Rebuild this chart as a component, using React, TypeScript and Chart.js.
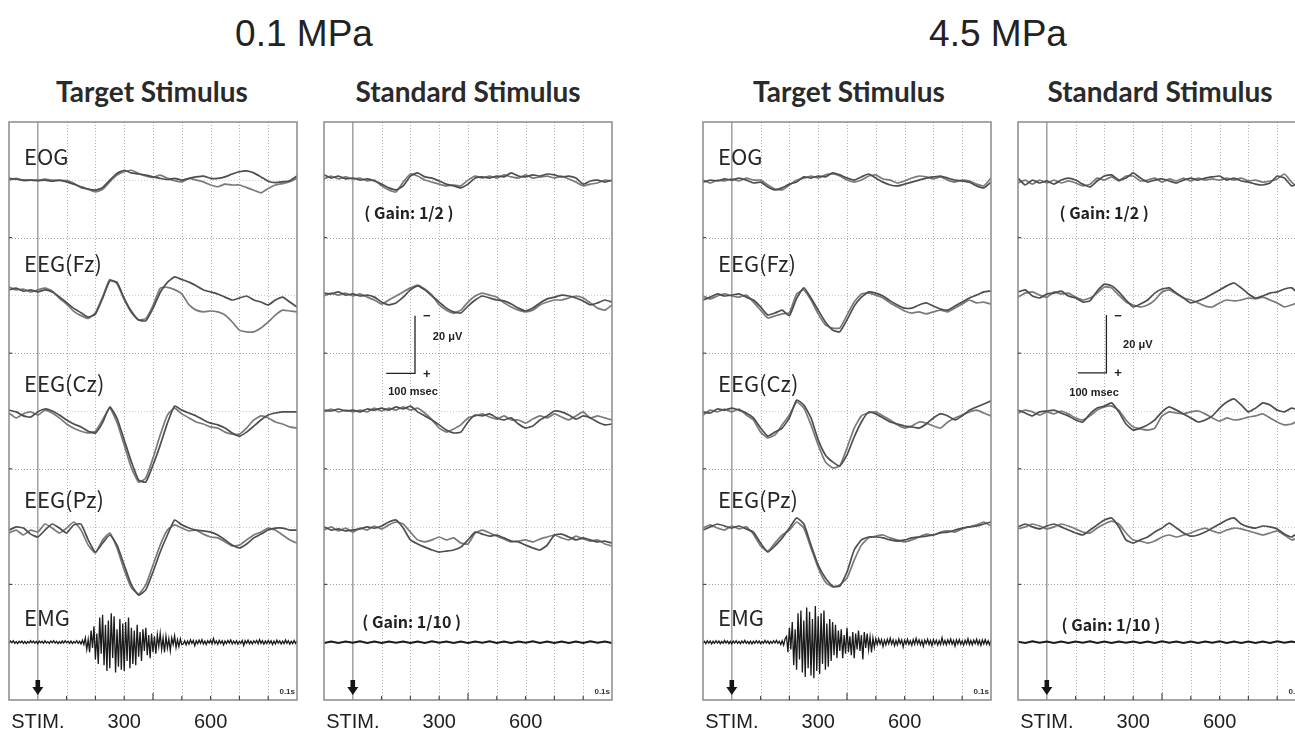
import React, { useEffect, useRef } from "react";
import { Chart, registerables } from "chart.js";

Chart.register(...registerables);

// ---------- axis / category data ----------
const TIMES = [-100, -75, -50, -25, 0, 25, 50, 75, 100, 125, 150, 175, 200, 225, 250, 275, 300, 325, 350, 375, 400, 425, 450, 475, 500, 525, 550, 575, 600, 625, 650, 675, 700, 725, 750, 775, 800, 825, 850, 875, 900];
const EMG_TIMES = [
  -100, -95, -90, -85, -80, -75, -70, -65, -60, -55, -50, -45, -40, -35, -30, -25, -20, -15, -10, -5,
  0, 5, 10, 15, 20, 25, 30, 35, 40, 45, 50, 55, 60, 65, 70, 75, 80, 85, 90, 95,
  100, 105, 110, 115, 120, 125, 130, 135, 140, 145, 150, 155, 160, 165, 170, 175, 180, 185, 190, 195,
  200, 205, 210, 215, 220, 225, 230, 235, 240, 245, 250, 255, 260, 265, 270, 275, 280, 285, 290, 295,
  300, 305, 310, 315, 320, 325, 330, 335, 340, 345, 350, 355, 360, 365, 370, 375, 380, 385, 390, 395,
  400, 405, 410, 415, 420, 425, 430, 435, 440, 445, 450, 455, 460, 465, 470, 475, 480, 485, 490, 495,
  500, 505, 510, 515, 520, 525, 530, 535, 540, 545, 550, 555, 560, 565, 570, 575, 580, 585, 590, 595,
  600, 605, 610, 615, 620, 625, 630, 635, 640, 645, 650, 655, 660, 665, 670, 675, 680, 685, 690, 695,
  700, 705, 710, 715, 720, 725, 730, 735, 740, 745, 750, 755, 760, 765, 770, 775, 780, 785, 790, 795,
  800, 805, 810, 815, 820, 825, 830, 835, 840, 845, 850, 855, 860, 865, 870, 875, 880, 885, 890, 895,
  900,
];
const GRID_TIMES = [100, 200, 300, 400, 500, 600, 700, 800];
const TICK_TIMES = [100, 200, 300, 400, 500, 600, 700, 800];
const X_LABEL_VALUES = [0, 300, 600];
const X_LABEL_TEXT = ["STIM.", "300", "600"];
const CHANNELS = ["EOG", "EEG(Fz)", "EEG(Cz)", "EEG(Pz)", "EMG"];
const PRESSURES = ["0.1 MPa", "4.5 MPa"];
const CONDITIONS = ["Target Stimulus", "Standard Stimulus"];
const UV_PER_DIV = 20; // 20 µV per division, negative up

// ---------- 0.1 MPa, target (µV, negative = up) ----------
const T1_EOG_A = [-0.5, -0.2, 0.1, 0.1, 0.3, 0.1, 0.5, 0.1, 0.7, 1.5, 2.4, 3.2, 3.6, 2.7, 0.1, -2.2, -3.3, -2.4, -2.0, -1.6, -1.0, -0.5, -0.1, -0.5, 0.1, -0.5, -1.0, -1.3, -0.5, -0.5, -1.0, -2.0, -2.8, -3.1, -2.4, -1.0, 0.5, 1.0, 0.7, 0.3, -1.3];
const T1_EOG_B = [0.1, -0.5, 0.3, 0.1, 0.1, -0.2, 0.1, 0.2, 0.3, 1.2, 2.7, 3.3, 4.2, 3.3, 0.7, -1.6, -2.8, -3.3, -2.2, -1.3, -0.8, -1.6, -0.5, 0.3, 0.7, -0.5, 0.1, 0.7, 1.8, 2.4, 1.5, 1.8, 1.8, 2.7, 3.6, 4.5, 3.0, 1.8, 1.3, 0.7, -0.5];
const T1_FZ_A = [-1.9, -2.5, -1.5, -1.9, -1.2, -1.9, -1.2, 0.5, 2.5, 4.5, 6.0, 7.5, 6.5, 1.0, -5.0, -4.5, 1.0, 5.5, 8.5, 8.8, 4.5, -1.0, -4.5, -6.4, -5.5, -4.6, -3.3, -1.9, -1.2, -0.5, 0.6, 1.6, 0.9, 0.2, 1.6, 2.3, 3.3, 1.6, 0.6, 2.3, 4.0];
const T1_FZ_B = [-2.9, -1.9, -2.2, -1.2, -1.9, -2.5, -1.5, 1.0, 3.0, 5.5, 7.0, 8.0, 6.0, 0.5, -5.5, -4.0, 1.5, 6.0, 8.5, 8.0, 3.5, -2.5, -2.8, -2.0, -0.5, 3.3, 5.1, 5.7, 5.4, 5.7, 6.8, 9.2, 12.0, 12.6, 12.6, 11.3, 9.2, 6.8, 5.1, 5.4, 5.7];
const T1_CZ_A = [-0.3, 0.3, 1.7, 2.1, 0.3, -0.7, 0, 1.4, 3.1, 4.5, 5.5, 7.0, 7.6, 4.0, -1.4, 2.5, 10.0, 17.6, 23.9, 24.6, 18.7, 11.8, 4.2, -1.7, -0.3, 0.7, 1.7, 3.1, 4.2, 4.8, 5.9, 7.6, 8.7, 7.3, 5.2, 3.1, 1.4, 0.7, 0.3, 0.3, 0.3];
const T1_CZ_B = [0.7, 2.4, 1.0, 0.3, 1.4, -0.3, 0.7, 2.4, 4.5, 6.0, 7.0, 7.6, 7.0, 3.0, -1.0, 4.0, 11.8, 19.7, 24.6, 23.2, 16.3, 8.3, 1.4, -1.0, 1.0, 2.4, 3.8, 4.5, 5.5, 5.9, 7.3, 8.0, 8.0, 5.9, 3.1, 1.7, 2.4, 3.8, 4.5, 5.5, 5.9];
const T1_PZ_A = [1.2, 0.1, 0.5, 2.6, 3.6, 1.2, -0.9, 0.5, 2.2, -0.6, -0.9, 4.6, 8.8, 5.7, 2.9, 6.4, 13.3, 20.2, 23.7, 21.9, 15.7, 8.8, 2.9, -2.3, -0.6, 0.5, 1.2, 1.5, 1.9, 2.9, 4.6, 6.4, 7.4, 6.0, 3.9, 2.6, 1.2, 0.5, 0.5, 1.2, 1.2];
const T1_PZ_B = [2.2, 1.2, 2.9, 1.2, 1.9, -0.9, 0.5, 2.2, 0.5, -1.6, 1.2, 6.4, 9.1, 4.6, 2.2, 7.4, 15.0, 21.2, 23.3, 20.2, 13.3, 6.4, 1.2, -0.6, 0.5, 1.5, 1.2, 2.6, 3.6, 3.9, 5.3, 6.7, 6.4, 4.6, 2.9, 1.9, 0.5, 1.2, 2.9, 4.6, 5.7];
const T1_EMG = [
  0.3, -0.4, 0.2, -0.5, 0.4, -0.2, 0.5, -0.3, 0.2, -0.4, 0.4, -0.3, 0.5, -0.2, 0.3, -0.5, 0.2, -0.4, 0.3, -0.3,
  0.5, -0.4, 0.2, -0.3, 0.4, -0.5, 0.3, -0.2, 0.4, -0.4, 0.2, -0.5, 0.3, -0.3, 0.5, -0.2, 0.4, -0.4, 0.3, -0.5,
  0.2, -0.3, 0.4, -0.4, 0.5, -0.2, 0.3, -0.5, 0.4, -0.3, 0.6, -0.7,
  0.8, -1.5, 2.5, -1.0, 3.5, -4.0, 2.0, -5.5,
  6.0, -3.0, 7.5, -8.5, 4.0, -9.5, 8.0, -6.0, 10.0, -7.5,
  9.0, -10.0, 5.5, -9.0, 10.5, -4.5, 8.5, -8.0, 9.5, -6.5,
  10.0, -7.0, 6.5, -8.5, 9.0, -5.0, 7.5, -4.0, 8.0, -6.0,
  5.0, -3.5, 6.5, -4.5, 3.0, -5.0, 4.5, -2.5, 5.5, -3.0,
  3.5, -2.0, 4.0, -2.5, 1.5, -3.0, 2.5, -1.5, 3.5, -2.0,
  2.0, -1.2, 3.0, -1.5, 0.8, -2.2, 1.8, -0.9, 1.5, -1.2,
  0.8,
  0.6, -0.5, 0.9, -0.4, 0.7, -0.8, 0.4, -0.6, 1.2, -0.5,
  0.5, -0.7, 0.4, -0.9, 0.6, -0.4, 0.8, -0.5, 0.3, -0.7,
  0.6, -1.3, 0.5, -0.4, 0.7, -0.6, 0.4, -0.5, 0.9, -0.4,
  0.5, -0.6, 0.3, -0.8, 0.6, -0.4, 0.5, -0.5, 0.7, -0.3,
  0.4, -0.6, 1.1, -0.5, 0.4, -0.7, 0.5, -0.4, 0.6, -0.5,
  0.3, -0.6, 0.5, -0.9, 0.4, -0.5, 0.7, -0.4, 0.5, -0.6,
  0.4, -0.5, 0.8, -0.4, 0.6, -0.7, 0.3, -0.5, 0.6, -0.4,
  0.5, -0.8, 0.4, -0.5, 0.7, -0.3, 0.5, -0.6, 0.4, -0.5,
];

// ---------- 0.1 MPa, standard ----------
const S1_EOG_A = [-1.7, -0.6, -1.3, -0.3, -0.6, 0.1, -0.3, 0.4, 1.5, 2.8, 3.5, 2.1, -1.3, -2.4, -1.0, -0.6, 0.4, 1.5, 2.1, 2.8, 1.5, -0.6, -1.0, -0.6, -1.3, -1.0, -2.4, -1.3, -1.0, -1.7, -1.3, -2.0, -1.7, -1.0, -1.3, -0.6, 1.5, 0.4, 0.1, 0.8, 0.1];
const S1_EOG_B = [-0.3, -1.3, -0.3, -1.0, -0.3, -0.6, 0.4, 0.1, 2.1, 3.5, 4.2, 0.8, -2.0, -1.3, 0.1, 0.8, 1.5, 2.1, 1.8, 2.1, 0.1, -1.3, -0.6, -1.3, -0.6, -1.7, -1.0, -0.6, -1.7, -0.6, -1.0, -1.3, -0.6, -1.3, -0.3, 0.8, 2.1, 1.5, 1.1, 0.1, 0.4];
const S1_FZ_A = [-0.8, -0.5, -1.2, -0.1, -0.5, 0.2, -0.1, 0.6, 2.3, 3.3, 2.6, 0.6, -1.9, -3.3, -1.9, 0.2, 2.3, 4.4, 5.7, 6.1, 3.7, 1.6, 0.2, 0.9, 1.6, 1.9, 3.0, 4.4, 5.4, 4.4, 2.6, 1.2, 0.6, -0.1, 0.2, 0.9, 1.9, 3.3, 2.6, 1.6, 2.3];
const S1_FZ_B = [0.2, -0.8, -0.1, -0.8, 0.2, -0.5, 0.6, 1.6, 3.0, 1.6, 0.2, -1.2, -2.6, -3.6, -2.2, -0.1, 3.3, 5.1, 6.1, 5.1, 2.3, 0.2, -0.8, -0.1, 0.6, 2.6, 4.0, 5.1, 5.7, 5.1, 3.3, 2.3, 1.6, 1.6, 0.9, 0.2, 0.9, 2.6, 4.4, 5.1, 3.3];
const S1_CZ_A = [-0.3, 0, -0.7, 0, -0.3, 0.3, -0.7, -0.3, -1.0, -0.3, -1.4, -0.7, -1.7, 0.3, 1.7, 3.1, 4.8, 6.6, 7.6, 7.3, 3.8, 1.4, 1.7, 1.0, 2.4, 3.1, 2.4, 4.5, 5.9, 5.2, 3.1, 1.7, 0, 0.3, 1.4, 2.8, 1.7, 2.4, 3.8, 4.8, 4.5];
const S1_CZ_B = [0.3, -0.7, 0.3, -0.3, 0.3, -0.3, 0.3, -1.0, 0, -1.0, -0.3, -1.4, -0.3, -1.0, 0.7, 3.1, 5.9, 7.3, 6.2, 4.8, 2.4, 1.7, 1.0, 2.1, 2.8, 1.7, 3.1, 3.1, 4.2, 2.8, 1.7, 2.4, 1.0, 2.1, 3.1, 1.7, 0.3, 2.4, 1.7, 2.4, 3.1];
const S1_PZ_A = [0.1, 1.2, 0.8, 1.5, 1.2, 0.8, 0.1, 0.5, -0.2, -1.6, -2.3, 0.5, 4.6, 6.0, 7.1, 8.1, 8.8, 8.5, 8.1, 7.1, 4.6, 1.9, 2.6, 3.3, 2.9, 3.9, 5.0, 5.3, 6.4, 7.4, 8.1, 6.4, 2.9, 2.6, 3.6, 4.6, 3.9, 4.6, 5.3, 5.0, 5.7];
const S1_PZ_B = [1.2, 0.1, 1.5, 0.5, 1.9, 0.5, 1.2, -0.2, 0.8, -0.6, -1.6, -0.9, 1.9, 4.6, 5.3, 4.6, 3.6, 4.6, 3.9, 5.7, 6.0, 2.2, 1.2, 2.2, 3.3, 4.3, 5.3, 5.0, 4.6, 5.3, 4.3, 3.6, 2.9, 3.9, 4.6, 3.3, 4.3, 5.0, 4.6, 6.0, 6.7];
const S1_EMG = [0.25, -0.2, 0.3, -0.25, 0.2, -0.3, 0.25, -0.2, 0.3, -0.25, 0.2, -0.25, 0.3, -0.2, 0.25, -0.3, 0.2, -0.25, 0.3, -0.2, 0.25, -0.25, 0.2, -0.3, 0.25, -0.2, 0.3, -0.25, 0.2, -0.3, 0.25, -0.2, 0.25, -0.25, 0.3, -0.2, 0.25, -0.3, 0.2, -0.25, 0.25];

// ---------- 4.5 MPa, target ----------
const T2_EOG_A = [0.8, 0.1, 0.4, -0.3, 0.1, -0.6, 0.1, 1.1, 0.8, 2.5, 3.5, 2.8, 1.5, 0.8, -1.0, -0.6, -1.3, -1.0, -2.4, -1.7, -0.6, 0.1, -1.0, -2.0, -0.6, 0.8, 1.8, 2.1, 1.5, 0.8, 0.1, -0.6, -1.0, -1.3, -0.6, 0.1, 0.4, 0.8, 2.1, 2.8, 0.8];
const T2_EOG_B = [0.1, 1.1, 0.1, 0.4, -0.3, 0.4, -0.6, 0.1, 0.1, 1.8, 3.2, 3.5, 1.8, 0.1, -0.6, -1.3, -0.6, -1.7, -2.0, -1.3, 0.1, 0.8, 0.1, -1.3, -1.7, -0.3, 0.1, 1.1, 0.4, -0.6, -1.3, -1.0, -0.3, -1.0, 0.1, 0.8, 0.1, 0.4, 1.5, 2.1, -0.6];
const T2_FZ_A = [1.6, 0.6, -0.5, 0.2, -0.1, -0.5, 0.6, 1.6, 4.0, 6.8, 6.1, 5.1, 7.0, 1.0, -2.6, 0.9, 5.1, 9.2, 12.0, 12.6, 8.5, 3.7, 0.6, -1.2, -0.8, 0.2, 1.9, 3.3, 4.4, 4.4, 3.3, 2.6, 3.7, 4.7, 5.1, 3.7, 2.3, 0.9, -0.1, -1.2, -1.5];
const T2_FZ_B = [0.2, 1.2, 0.2, -0.5, 0.2, 0.6, -0.1, 2.3, 5.1, 7.8, 7.1, 6.4, 6.0, -0.5, -1.9, 1.6, 6.4, 10.2, 11.3, 11.3, 6.8, 2.3, -0.5, -0.8, -0.1, 0.9, 2.6, 4.0, 5.4, 6.1, 5.7, 6.4, 5.7, 5.1, 5.7, 4.4, 3.0, 1.6, 2.6, 2.3, 3.0];
const T2_CZ_A = [0.3, 0.7, -0.7, -0.3, -1.0, -0.3, 0.7, 2.4, 5.9, 8.7, 7.3, 5.9, 2.4, -3.8, -2.1, 2.4, 10.0, 15.2, 17.6, 19.0, 15.2, 9.0, 3.8, 0.3, 1.0, 2.4, 3.8, 4.5, 5.2, 5.5, 5.9, 4.5, 2.4, 1.0, 1.7, 3.1, 1.7, -0.3, -1.4, -2.4, -3.5];
const T2_CZ_B = [1.4, -0.3, 0.3, -0.7, 0.3, -0.7, 1.4, 3.1, 7.3, 9.3, 8.3, 4.8, 1.4, -3.1, -1.0, 4.8, 11.8, 17.6, 19.7, 19.0, 12.8, 5.9, 1.7, 0.7, 0.3, 1.7, 3.1, 4.8, 5.9, 5.2, 3.8, 4.2, 5.2, 5.9, 3.8, 2.4, 1.4, 0.3, -0.3, 0.7, 1.7];
const T2_PZ_A = [1.2, 0.1, -0.9, -0.2, 0.5, -0.2, 0.8, 1.9, 5.7, 8.8, 6.7, 3.9, 0.5, -3.0, -0.9, 6.4, 13.3, 17.8, 20.6, 20.6, 15.7, 8.1, 4.6, 3.6, 3.6, 3.9, 4.6, 5.0, 4.6, 3.9, 3.6, 3.3, 2.9, 2.2, 1.9, 1.2, 0.5, 0.1, -0.2, -0.9, -1.6];
const T2_PZ_B = [0.5, -0.6, 0.5, 1.2, -0.2, 0.8, 0.1, 2.6, 6.7, 8.5, 5.7, 2.9, 1.2, -1.6, 0.5, 7.4, 14.3, 19.2, 20.9, 20.2, 17.8, 11.6, 6.4, 3.9, 3.3, 2.9, 3.9, 4.6, 5.3, 4.6, 3.6, 2.6, 2.9, 1.9, 1.5, 1.9, 0.8, 0.1, -0.6, -1.6, -0.2];
const T2_EMG = [
  0.4, -0.3, 0.5, -0.5, 0.3, -0.4, 0.6, -0.3, 0.4, -0.5, 0.3, -0.4, 0.5, -0.3, 0.4, -0.6, 0.3, -0.4, 0.5, -0.3,
  0.6, -0.4, 0.3, -0.5, 0.4, -0.3, 0.5, -0.4, 0.3, -0.6, 0.4, -0.3, 0.5, -0.4, 0.6, -0.3, 0.4, -0.5, 0.3, -0.4,
  0.5, -0.3, 0.4, -0.6, 0.3, -0.4, 0.5, -0.3, 0.4, -0.5, 0.3, -0.6, 0.4, -0.3, 0.8, -0.5, 1.0, -1.2,
  -2.0, 3.5, -5.0, 2.5, -7.0, 8.0, -4.5, 9.5, -10.0, 6.0,
  -11.0, 10.5, -7.5, 12.0, -12.0, 9.0, -10.5, 11.5, -8.0, 12.5,
  -12.5, 10.0, -9.0, 11.0, -10.0, 7.5, -11.0, 9.5, -6.5, 8.5,
  -8.0, 6.5, -7.0, 4.5, -6.0, 5.5, -4.0,
  3.0, -4.5, 5.5, -2.5, 4.0, -5.0, 3.5, -2.0, 4.5, -3.5,
  5.5, -3.0, 2.5, -4.0, 3.0, -2.5, 6.0, -3.5, 2.0, -3.0,
  2.5, -1.8, 3.5, -1.5, 1.8, -1.2,
  0.8, -1.2, 0.6, -0.9, 1.5, -0.7, 0.9, -1.0, 0.6, -1.4,
  0.7, -0.8, 1.2, -0.6, 0.9, -1.1, 0.5, -0.8, 1.6, -0.7,
  0.6, -1.0, 0.8, -0.5, 1.1, -0.9, 0.7, -1.3, 0.6, -0.8,
  0.9, -0.6, 1.4, -0.7, 0.5, -1.0, 0.8, -0.6, 1.2, -0.9,
  0.6, -0.7, 1.0, -0.5, 0.8, -1.5, 0.7, -0.6, 0.9, -0.8,
  0.5, -1.1, 0.7, -0.6, 1.3, -0.8, 0.6, -0.9, 0.7, -0.5,
  1.0, -0.7, 0.6, -1.2, 0.8, -0.6, 0.9, -0.7, 0.5, -1.0,
  0.8, -0.6, 1.1, -0.8, 0.6, -0.9, 0.7, -0.5, 0.9, -0.7,
];

// ---------- 4.5 MPa, standard ----------
const S2_EOG_A = [-0.6, 1.8, 0.1, 1.1, 0.4, 1.5, 0.1, -0.6, 0.1, 1.5, 2.5, 0.4, -1.3, -1.7, 0.1, -0.6, -2.4, -0.6, 0.8, 0.1, -0.3, 0.4, 1.1, 0.1, -0.6, 0.1, -0.6, -1.0, -1.3, 0.1, -0.6, 0.4, 0.8, 1.5, 1.8, 1.1, -1.3, -0.6, 2.1, 1.5, 0.8];
const S2_EOG_B = [1.1, 0.1, 1.5, 0.1, 1.1, 0.1, 1.1, 0.4, 1.1, 2.1, 1.5, -0.6, 0.1, -1.0, 0.4, -1.3, -1.3, 0.4, 0.1, -0.6, 0.8, -0.3, 0.4, -0.6, 0.4, -0.6, 0.1, -0.3, 0.1, -0.6, 0.1, -0.6, 0.4, 0.1, 0.8, 0.4, -0.3, -2.0, 0.8, 2.8, 1.8];
const S2_FZ_A = [-1.2, -1.9, 0.2, 0.9, -0.5, -0.8, -1.5, 0.2, 0.9, 2.3, 1.9, -1.5, -3.9, -3.3, -1.2, 1.6, 4.0, 3.0, 1.6, -0.8, -2.2, -2.6, -0.8, 0.9, 2.6, 1.9, 0.9, -0.5, -1.9, -3.3, -4.3, -2.6, -0.5, 0.9, 0.2, -0.8, -1.2, -2.2, -2.6, -0.5, 0.6];
const S2_FZ_B = [0.6, -0.8, -1.2, -0.1, 0.6, -1.2, -0.5, -0.8, 0.6, 1.6, 0.9, -0.8, -2.9, -2.6, -0.1, 2.3, 3.3, 4.0, 3.3, 1.6, -1.2, -1.9, -0.5, 0.9, 1.6, 2.6, 3.7, 4.0, 2.6, 1.6, 1.9, 1.6, 0.9, 1.2, 0.6, 1.6, 2.6, 4.0, 3.3, 2.3, 1.6];
const S2_CZ_A = [-0.3, 0.7, 1.7, 0.3, 0, -0.3, 0.7, 1.7, 3.1, 3.8, 1.0, -1.0, -1.7, -2.8, 0.3, 4.5, 6.6, 5.9, 4.8, 3.1, 0.3, -1.4, -0.3, 1.0, 2.4, 3.8, 3.1, 1.7, -1.0, -3.1, -4.2, -2.1, 0.3, -1.0, -2.8, -2.1, -0.3, 0.3, -1.0, -0.3, 0.3];
const S2_CZ_B = [0.7, -0.3, 0.3, 1.4, 0.3, 1.0, 0, 1.0, 2.4, 3.1, 1.7, -0.3, -1.4, -1.7, -0.3, 3.1, 5.5, 6.2, 6.6, 5.9, 1.7, 0.3, 0.7, 1.0, 0.3, 0, 1.0, 2.4, 3.5, 2.4, 3.1, 2.8, 2.1, 1.7, 1.0, 2.4, 3.8, 4.8, 4.5, 3.1, 2.4];
const S2_PZ_A = [0.1, -0.9, 0.1, 0.8, -0.2, -0.9, 0.1, 1.2, 2.2, 2.9, 1.2, -0.6, -2.3, -3.0, 0.1, 4.6, 5.7, 4.6, 3.6, 1.9, 0.5, -1.2, 0.5, 2.2, 3.3, 2.9, 1.9, 0.5, -0.9, -2.3, -3.0, -0.9, 0.1, 0.5, -0.2, 0.1, 0.8, 2.6, 3.6, 1.9, 1.2];
const S2_PZ_B = [0.8, 0.1, -0.9, -0.2, 0.8, 0.1, -0.9, -0.2, 0.8, 1.9, 2.2, 0.5, -0.9, -1.9, -0.9, 2.2, 4.6, 5.0, 5.7, 5.0, 3.6, 2.9, 3.6, 2.9, 2.2, 1.2, 0.5, 1.5, 2.2, 1.2, 0.5, 0.8, 1.5, 2.2, 2.9, 2.2, 1.5, 2.9, 4.6, 3.9, 3.3];
const S2_EMG = [-0.2, 0.25, -0.3, 0.2, -0.25, 0.3, -0.2, 0.25, -0.25, 0.2, -0.3, 0.25, -0.2, 0.3, -0.25, 0.2, -0.25, 0.3, -0.2, 0.25, -0.3, 0.2, -0.25, 0.25, -0.2, 0.3, -0.25, 0.2, -0.3, 0.25, -0.2, 0.25, -0.25, 0.3, -0.2, 0.25, -0.3, 0.2, -0.25, 0.25, -0.2];

// ---------- layout / style (not data) ----------
const CHANNEL_BASE = [9, 7, 5, 3, 1];
const LABEL_OFFSET = [0.4, 0.55, 0.48, 0.47, 0.43];
const TRACE_COLORS = ["#4e4e4e", "#7a7a7a"];
const PAD = { left: 9, right: 12, top: 22, bottom: 35 };
const CANVAS_W = 309;
const CANVAS_H = 635;
const CANVAS_TOP = 100;

type ScaleBar = { bx: number; bBottom: number; hStart: number; signT: number; uvT: number; uvY: number; msT: number; msY: number };
type PanelDef = {
  left: number;
  eeg: number[][][];
  emg: number[];
  emgTimes: number[];
  target: boolean;
  gain2?: { t: number; y: number };
  gain10?: { t: number; y: number };
  scale?: ScaleBar;
};

const PANELS: PanelDef[] = [
  { left: 9, eeg: [[T1_EOG_A, T1_EOG_B], [T1_FZ_A, T1_FZ_B], [T1_CZ_A, T1_CZ_B], [T1_PZ_A, T1_PZ_B]], emg: T1_EMG, emgTimes: EMG_TIMES, target: true },
  {
    left: 324, eeg: [[S1_EOG_A, S1_EOG_B], [S1_FZ_A, S1_FZ_B], [S1_CZ_A, S1_CZ_B], [S1_PZ_A, S1_PZ_B]], emg: S1_EMG, emgTimes: TIMES, target: false,
    gain2: { t: 40, y: 8.43 }, gain10: { t: 33, y: 1.35 },
    scale: { bx: 216, bBottom: 5.65, hStart: 116, signT: 257, uvT: 278, uvY: 6.28, msT: 209, msY: 5.33 },
  },
  { left: 703, eeg: [[T2_EOG_A, T2_EOG_B], [T2_FZ_A, T2_FZ_B], [T2_CZ_A, T2_CZ_B], [T2_PZ_A, T2_PZ_B]], emg: T2_EMG, emgTimes: EMG_TIMES, target: true },
  {
    left: 1018, eeg: [[S2_EOG_A, S2_EOG_B], [S2_FZ_A, S2_FZ_B], [S2_CZ_A, S2_CZ_B], [S2_PZ_A, S2_PZ_B]], emg: S2_EMG, emgTimes: TIMES, target: false,
    gain2: { t: 44, y: 8.43 }, gain10: { t: 51, y: 1.3 },
    scale: { bx: 207, bBottom: 5.66, hStart: 108, signT: 247, uvT: 265, uvY: 6.14, msT: 164, msY: 5.31 },
  },
];

function toPoints(times: number[], values: number[], base: number) {
  return values.map((v, i) => ({ x: times[i], y: base - v / UV_PER_DIV }));
}

function makeDecor(p: PanelDef) {
  return {
    id: "panelDecor",
    beforeDatasetsDraw(chart: any) {
      const { ctx, chartArea: a, scales } = chart;
      const x = scales.x;
      const y = scales.y;
      ctx.save();
      ctx.lineWidth = 1;
      ctx.setLineDash([1, 2]);
      ctx.strokeStyle = "#adadad";
      for (const t of GRID_TIMES) {
        const px = Math.round(x.getPixelForValue(t)) + 0.5;
        ctx.beginPath();
        ctx.moveTo(px, a.top);
        ctx.lineTo(px, a.bottom);
        ctx.stroke();
      }
      for (let v = 1; v <= 9; v++) {
        const py = Math.round(y.getPixelForValue(v)) + 0.5;
        ctx.strokeStyle = v % 2 === 0 ? "#a4a4a4" : "#cfcfcf";
        ctx.beginPath();
        ctx.moveTo(a.left, py);
        ctx.lineTo(a.right, py);
        ctx.stroke();
      }
      ctx.setLineDash([]);
      const sx = x.getPixelForValue(0);
      ctx.strokeStyle = "#a0a0a0";
      ctx.lineWidth = 1.5;
      ctx.beginPath();
      ctx.moveTo(sx, a.top);
      ctx.lineTo(sx, a.bottom);
      ctx.stroke();
      ctx.restore();
    },
    afterDatasetsDraw(chart: any) {
      const { ctx, chartArea: a, scales } = chart;
      const x = scales.x;
      const y = scales.y;
      ctx.save();
      // frame
      ctx.strokeStyle = "#8a8a8a";
      ctx.lineWidth = 1.5;
      ctx.strokeRect(a.left, a.top, a.right - a.left, a.bottom - a.top);
      // bottom ticks
      ctx.strokeStyle = "#4a4a4a";
      ctx.lineWidth = 1.2;
      for (const t of TICK_TIMES) {
        const px = x.getPixelForValue(t);
        const len = t === 400 ? 7 : 4;
        ctx.beginPath();
        ctx.moveTo(px, a.bottom);
        ctx.lineTo(px, a.bottom - len);
        ctx.stroke();
      }
      // left ticks
      for (const v of [2, 4, 6, 8]) {
        const py = y.getPixelForValue(v);
        ctx.beginPath();
        ctx.moveTo(a.left, py);
        ctx.lineTo(a.left + 3, py);
        ctx.stroke();
      }
      // stimulus arrow
      const sx = x.getPixelForValue(0);
      ctx.fillStyle = "#151515";
      ctx.fillRect(sx - 2.3, a.bottom - 20, 4.6, 8);
      ctx.beginPath();
      ctx.moveTo(sx - 5.5, a.bottom - 13);
      ctx.lineTo(sx + 5.5, a.bottom - 13);
      ctx.lineTo(sx, a.bottom - 5);
      ctx.closePath();
      ctx.fill();
      // 0.1s
      ctx.fillStyle = "#333";
      ctx.font = 'bold 8px "Liberation Sans"';
      ctx.textAlign = "right";
      ctx.textBaseline = "middle";
      ctx.fillText("0.1s", a.right - 2, a.bottom - 8);
      // bottom labels
      ctx.fillStyle = "#1e1e1e";
      ctx.font = '20px "Liberation Sans"';
      ctx.textAlign = "center";
      X_LABEL_VALUES.forEach((t, i) => ctx.fillText(X_LABEL_TEXT[i], x.getPixelForValue(t), a.bottom + 22));
      // channel labels
      if (p.target) {
        ctx.fillStyle = "#262626";
        ctx.font = '22px "Noto Sans CJK JP"';
        ctx.textAlign = "left";
        CHANNELS.forEach((c, i) => {
          ctx.fillText(c, a.left + 15, y.getPixelForValue(CHANNEL_BASE[i] + LABEL_OFFSET[i]));
        });
      }
      if (p.gain2 && p.gain10) {
        ctx.fillStyle = "#222";
        ctx.font = 'bold 16px "Noto Sans CJK JP"';
        ctx.textAlign = "left";
        ctx.fillText("( Gain: 1/2 )", x.getPixelForValue(p.gain2.t), y.getPixelForValue(p.gain2.y));
        ctx.fillText("( Gain: 1/10 )", x.getPixelForValue(p.gain10.t), y.getPixelForValue(p.gain10.y));
      }
      if (p.scale) {
        const s = p.scale;
        const bx = x.getPixelForValue(s.bx);
        const yb = y.getPixelForValue(s.bBottom);
        const yt = y.getPixelForValue(s.bBottom + 1);
        ctx.strokeStyle = "#222";
        ctx.lineWidth = 1.3;
        ctx.beginPath();
        ctx.moveTo(bx, yt);
        ctx.lineTo(bx, yb);
        ctx.lineTo(x.getPixelForValue(s.hStart), yb);
        ctx.stroke();
        ctx.fillStyle = "#222";
        ctx.font = 'bold 13px "Liberation Sans"';
        ctx.textAlign = "center";
        ctx.fillText("−", x.getPixelForValue(s.signT), yt + 1);
        ctx.fillText("+", x.getPixelForValue(s.signT), yb + 1);
        ctx.font = 'bold 11px "Liberation Sans"';
        ctx.textAlign = "left";
        ctx.fillText("20 μV", x.getPixelForValue(s.uvT), y.getPixelForValue(s.uvY));
        ctx.textAlign = "center";
        ctx.fillText("100 msec", x.getPixelForValue(s.msT), y.getPixelForValue(s.msY));
      }
      ctx.restore();
    },
  };
}

function buildConfig(p: PanelDef): any {
  const datasets: any[] = [];
  p.eeg.forEach((pair, ch) => {
    pair.forEach((vals, k) => {
      datasets.push({
        data: toPoints(TIMES, vals, CHANNEL_BASE[ch]),
        borderColor: TRACE_COLORS[k],
        borderWidth: 1.7,
        pointRadius: 0,
        tension: 0.15,
        fill: false,
      });
    });
  });
  datasets.push({
    data: toPoints(p.emgTimes, p.emg, CHANNEL_BASE[4]),
    borderColor: "#1a1a1a",
    borderWidth: p.target ? 1.3 : 2.0,
    pointRadius: 0,
    tension: 0,
    fill: false,
  });
  return {
    type: "line",
    data: { datasets },
    options: {
      animation: false,
      responsive: false,
      maintainAspectRatio: false,
      events: [],
      layout: { padding: PAD },
      scales: {
        x: { type: "linear", min: -100, max: 900, display: false },
        y: { type: "linear", min: 0, max: 10, display: false },
      },
      plugins: { legend: { display: false }, tooltip: { enabled: false }, title: { display: false } },
    },
    plugins: [makeDecor(p)],
  };
}

function Panel({ p }: { p: PanelDef }) {
  const ref = useRef<HTMLCanvasElement | null>(null);
  useEffect(() => {
    if (!ref.current) return;
    const chart = new Chart(ref.current, buildConfig(p));
    return () => chart.destroy();
  }, [p]);
  return (
    <canvas
      ref={ref}
      width={CANVAS_W}
      height={CANVAS_H}
      style={{ position: "absolute", left: p.left - PAD.left, top: CANVAS_TOP, width: CANVAS_W, height: CANVAS_H }}
    />
  );
}

const TITLE_CENTERS = [304, 998];
const SUB_CENTERS = [152, 468, 849, 1160];

export default function App() {
  return (
    <div style={{ position: "fixed", left: 0, top: 0, width: 1295, height: 735, overflow: "hidden", background: "#fff" }}>
      {PRESSURES.map((t, i) => (
        <div key={t} style={{ position: "absolute", left: TITLE_CENTERS[i] - 150, top: 12, width: 300, textAlign: "center", font: '37px "Liberation Sans"', lineHeight: "44px", color: "#222" }}>{t}</div>
      ))}
      {SUB_CENTERS.map((c, i) => (
        <div key={i} style={{ position: "absolute", left: c - 150, top: 74, width: 300, textAlign: "center", font: 'bold 28px Lato', lineHeight: "34px", color: "#2a2a2a" }}>{CONDITIONS[i % 2]}</div>
      ))}
      {PANELS.map((p, i) => (
        <Panel key={i} p={p} />
      ))}
    </div>
  );
}
